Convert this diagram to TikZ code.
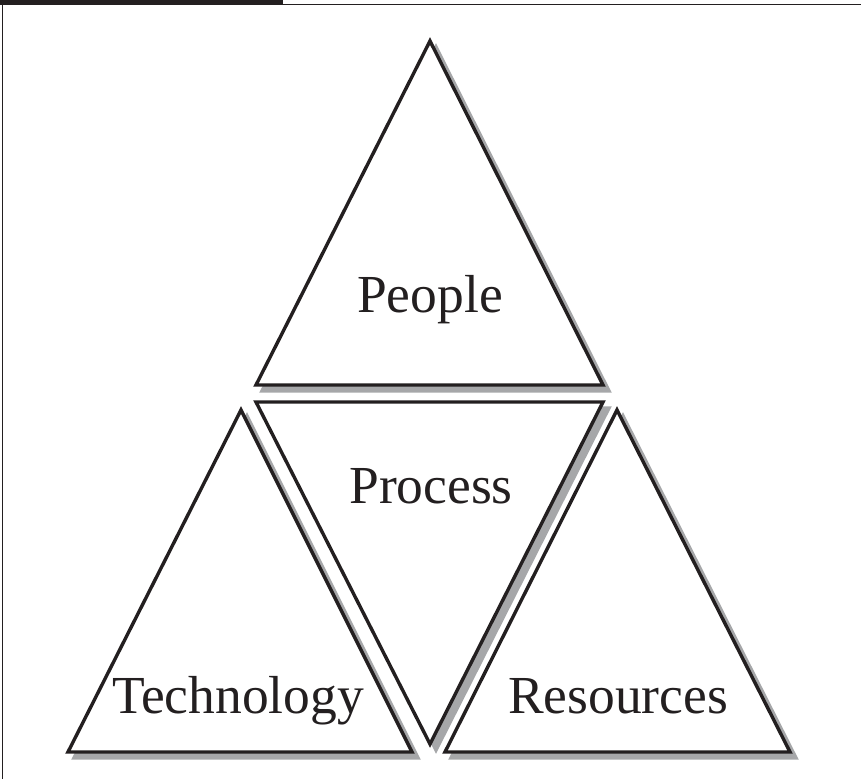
\documentclass[tikz,border=0pt]{standalone}
\usepackage{fontspec}
\setmainfont{Liberation Serif}
\definecolor{ink}{RGB}{35,31,32}
\definecolor{shade}{RGB}{166,167,169}
\tikzset{
  tri/.style={draw=ink, line width=3.4pt, fill=white, line join=miter},
  trishadow/.style={draw=shade, fill=shade, line width=3.4pt, line join=miter},
  lbl/.style={anchor=base, inner sep=0pt, text=ink, font=\fontsize{53.5}{64}\selectfont}
}
\newcommand{\shd}[1]{([shift={(6,6)}]#1)}
\begin{document}
\begin{tikzpicture}[x=1pt,y=-1pt]
\useasboundingbox (0,0) rectangle (861,779);
% frame
\fill[ink] (0,0) rectangle (283,5);
\draw[ink, line width=1.6pt] (283,4.5) -- (861,4.5);
\draw[ink, line width=1.3pt] (2.7,0) -- (2.7,779);
% coordinates
\coordinate (pa) at (430,41);
\coordinate (pl) at (256,385);
\coordinate (pr) at (603,385);
\coordinate (ql) at (256,402);
\coordinate (qr) at (603,402);
\coordinate (qb) at (430,744);
\coordinate (ta) at (241,410);
\coordinate (tl) at (68,752);
\coordinate (tr) at (412,752);
\coordinate (ra) at (617,410);
\coordinate (rl) at (445,752);
\coordinate (rr) at (790,752);
% shadows
\filldraw[trishadow] \shd{pa} -- \shd{pl} -- \shd{pr} -- cycle;
\filldraw[trishadow] \shd{ql} -- \shd{qr} -- \shd{qb} -- cycle;
\filldraw[trishadow] \shd{ta} -- \shd{tl} -- \shd{tr} -- cycle;
\filldraw[trishadow] \shd{ra} -- \shd{rl} -- \shd{rr} -- cycle;
% triangles
\filldraw[tri] (pa) -- (pl) -- (pr) -- cycle;
\filldraw[tri] (ql) -- (qr) -- (qb) -- cycle;
\filldraw[tri] (ta) -- (tl) -- (tr) -- cycle;
\filldraw[tri] (ra) -- (rl) -- (rr) -- cycle;
% labels
\node[lbl] (people) at (430,312) {People};
\node[lbl] (process) at (431,503) {Process};
\node[lbl] (technology) at (238,713) {Technology};
\node[lbl] (resources) at (618,713) {Resources};
\end{tikzpicture}
\end{document}
